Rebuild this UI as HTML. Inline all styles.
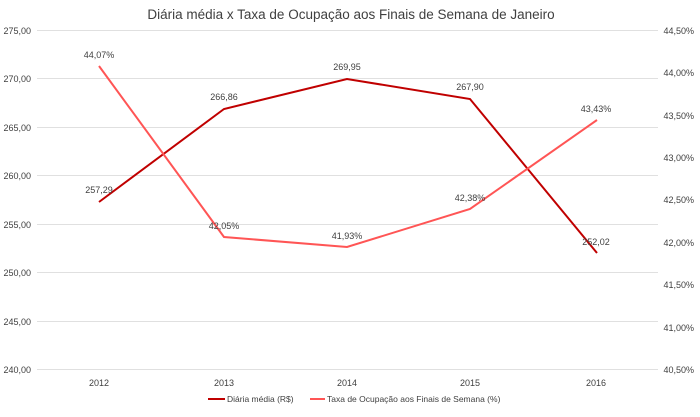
<!DOCTYPE html>
<html><head><meta charset="utf-8"><style>
body{margin:0;background:#fff;}
svg text{font-family:"Liberation Sans",sans-serif;fill:#404040;}
</style></head><body>
<svg width="700" height="412" viewBox="0 0 700 412" xmlns="http://www.w3.org/2000/svg">
<rect width="700" height="412" fill="#fff"/>
<text x="351" y="19" font-size="13.5" text-anchor="middle" fill="#333">Diária média x Taxa de Ocupação aos Finais de Semana de Janeiro</text>
<g stroke="#e0e0e0" stroke-width="1">
<line x1="37" x2="658" y1="30.5" y2="30.5"/>
<line x1="37" x2="658" y1="78.5" y2="78.5"/>
<line x1="37" x2="658" y1="127.5" y2="127.5"/>
<line x1="37" x2="658" y1="175.5" y2="175.5"/>
<line x1="37" x2="658" y1="224.5" y2="224.5"/>
<line x1="37" x2="658" y1="272.5" y2="272.5"/>
<line x1="37" x2="658" y1="321.5" y2="321.5"/>
<line x1="37" x2="658" y1="369.5" y2="369.5"/>
</g>
<g font-size="9" text-anchor="end">
<text x="31" y="34">275,00</text><text x="31" y="82">270,00</text><text x="31" y="131">265,00</text><text x="31" y="179">260,00</text><text x="31" y="228">255,00</text><text x="31" y="276">250,00</text><text x="31" y="325">245,00</text><text x="31" y="373">240,00</text>
</g>
<g font-size="9" text-anchor="end">
<text x="694" y="34">44,50%</text><text x="694" y="76">44,00%</text><text x="694" y="119">43,50%</text><text x="694" y="161">43,00%</text><text x="694" y="203">42,50%</text><text x="694" y="246">42,00%</text><text x="694" y="288">41,50%</text><text x="694" y="331">41,00%</text><text x="694" y="373">40,50%</text>
</g>
<g font-size="9" text-anchor="middle">
<text x="99" y="386">2012</text><text x="224" y="386">2013</text><text x="347" y="386">2014</text><text x="470" y="386">2015</text><text x="596" y="386">2016</text>
</g>
<polyline fill="none" stroke="#c00000" stroke-width="2" points="99,202 224,109 347,79 470,99 597,253"/>
<polyline fill="none" stroke="#ff5555" stroke-width="2" points="99,66 224,237 347,247 470,209 597,120"/>
<g font-size="9" text-anchor="middle">
<text x="99" y="193">257,29</text><text x="224" y="100">266,86</text><text x="347" y="70">269,95</text><text x="470" y="90">267,90</text><text x="596" y="245">252,02</text>
<text x="99" y="58">44,07%</text><text x="224" y="229">42,05%</text><text x="347" y="239">41,93%</text><text x="470" y="201">42,38%</text><text x="596" y="112">43,43%</text>
</g>
<line x1="208" x2="225" y1="399" y2="399" stroke="#c00000" stroke-width="2"/>
<text x="227" y="402" font-size="8.5">Diária média (R$)</text>
<line x1="310" x2="325" y1="399" y2="399" stroke="#ff5555" stroke-width="2"/>
<text x="327" y="402" font-size="8.5">Taxa de Ocupação aos Finais de Semana (%)</text>
</svg>
</body></html>
